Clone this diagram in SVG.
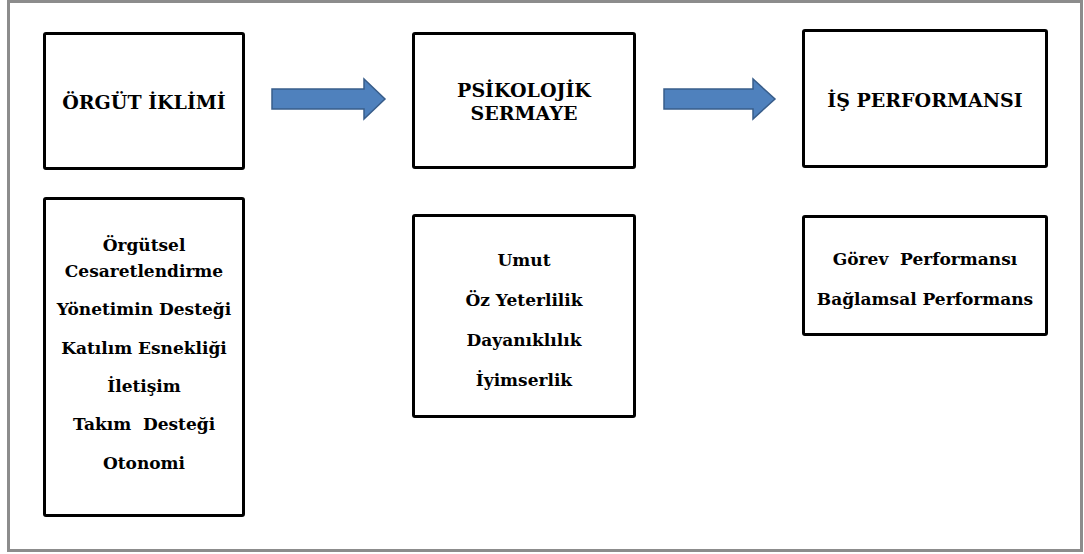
<svg xmlns="http://www.w3.org/2000/svg" width="1084" height="554" viewBox="0 0 1084 554">
  <style>
    .frame { fill: #ffffff; stroke: #8c8c8c; stroke-width: 3; }
    .box { fill: #ffffff; stroke: #000000; stroke-width: 3; }
    .lbl { font-family: "DejaVu Serif", "Liberation Serif", serif; font-weight: bold; font-size: 17px; fill: #000000; text-anchor: middle; white-space: pre; }
    .ttl { font-size: 19px; }
    .flow { fill: #4f81bd; stroke: #385d8a; stroke-width: 1.5; }
  </style>

  <rect class="frame" x="8.5" y="1.5" width="1073" height="549"/>

  <g id="orgut-iklimi">
    <rect class="box" x="44.5" y="33.5" width="199" height="135" rx="1.5"/>
    <text class="lbl ttl" x="144" y="109">ÖRGÜT İKLİMİ</text>
  </g>

  <g id="orgut-iklimi-boyutlar">
    <rect class="box" x="44.5" y="198.5" width="199" height="317" rx="1.5"/>
    <text class="lbl" x="144" y="251">Örgütsel</text>
    <text class="lbl" x="144" y="277">Cesaretlendirme</text>
    <text class="lbl" x="144" y="315">Yönetimin Desteği</text>
    <text class="lbl" x="144" y="354">Katılım Esnekliği</text>
    <text class="lbl" x="144" y="392">İletişim</text>
    <text class="lbl" x="144" y="430">Takım  Desteği</text>
    <text class="lbl" x="144" y="469">Otonomi</text>
  </g>

  <g id="psikolojik-sermaye">
    <rect class="box" x="413.5" y="33.5" width="221" height="134" rx="1.5"/>
    <text class="lbl ttl" x="524" y="97">PSİKOLOJİK</text>
    <text class="lbl ttl" x="524" y="120">SERMAYE</text>
  </g>

  <g id="psikolojik-sermaye-boyutlar">
    <rect class="box" x="413.5" y="215.5" width="221" height="201" rx="1.5"/>
    <text class="lbl" x="524" y="266">Umut</text>
    <text class="lbl" x="524" y="306">Öz Yeterlilik</text>
    <text class="lbl" x="524" y="346">Dayanıklılık</text>
    <text class="lbl" x="524" y="386">İyimserlik</text>
  </g>

  <g id="is-performansi">
    <rect class="box" x="803.5" y="30.5" width="243" height="136" rx="1.5"/>
    <text class="lbl ttl" x="925" y="107">İŞ PERFORMANSI</text>
  </g>

  <g id="is-performansi-boyutlar">
    <rect class="box" x="803.5" y="216.5" width="243" height="118" rx="1.5"/>
    <text class="lbl" x="925" y="265">Görev  Performansı</text>
    <text class="lbl" x="925" y="305">Bağlamsal Performans</text>
  </g>

  <g id="connectors">
    <polygon class="flow" points="272,89 364,89 364,79 385,99 364,119 364,109 272,109"/>
    <polygon class="flow" points="664,89 753,89 753,79 775,99 753,119 753,109 664,109"/>
  </g>
</svg>
